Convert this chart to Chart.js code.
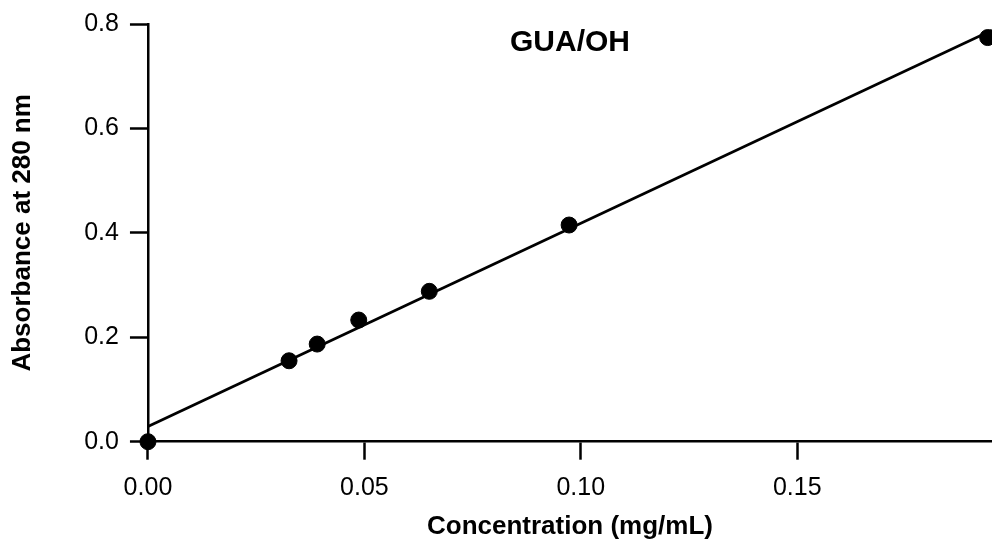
<!DOCTYPE html>
<html>
<head>
<meta charset="utf-8">
<script src="https://cdn.jsdelivr.net/npm/chart.js@4/dist/chart.umd.min.js"></script>
<style>
	html, body { margin: 0; padding: 0; background: #fff; }
	#box { width: 992px; height: 550px; position: relative; }
</style>
</head>
<body>
<div id="box"><canvas id="calibration"></canvas></div>
<script>
var concentration = [0, 0.0326, 0.0391, 0.0487, 0.0650, 0.0973, 0.194];
var absorbance = [0, 0.155, 0.187, 0.233, 0.288, 0.415, 0.774];

// least squares line, drawn end to end across the x range
var fitX = [0, 0.195];
var fitY = [0.029, 0.788];

var xTicks = [0, 0.05, 0.10, 0.15];
var yTicks = [0, 0.2, 0.4, 0.6, 0.8];

var plotTitle = 'GUA/OH';

var font = 'Liberation Sans, Arial, Helvetica, sans-serif';

function pairs(xs, ys) {
	return xs.map(function (x, i) { return { x: x, y: ys[i] }; });
}

function fixedTicks(values) {
	return function (scale) {
		scale.ticks = values.map(function (v) { return { value: v }; });
	};
}

var titleInside = {
	id: 'titleInside',
	afterDraw: function (chart) {
		var ctx = chart.ctx;
		var area = chart.chartArea;
		ctx.save();
		ctx.font = 'bold 30px ' + font;
		ctx.fillStyle = '#000';
		ctx.textAlign = 'center';
		ctx.textBaseline = 'middle';
		ctx.fillText(plotTitle, (area.left + area.right) / 2, 43);
		ctx.restore();
	}
};

var config = {
	type: 'scatter',
	data: {
		datasets: [
			{
				label: 'fit',
				type: 'line',
				data: pairs(fitX, fitY),
				borderColor: '#000',
				borderWidth: 2.8,
				pointRadius: 0,
				fill: false,
				clip: false,
				order: 2
			},
			{
				label: 'GUA/OH',
				data: pairs(concentration, absorbance),
				backgroundColor: '#000',
				borderColor: '#000',
				pointRadius: 8,
				pointHoverRadius: 8,
				clip: false,
				order: 1
			}
		]
	},
	options: {
		responsive: true,
		maintainAspectRatio: false,
		animation: false,
		layout: {
			autoPadding: false,
			padding: { top: 0, right: 0, left: 7.5, bottom: 0 }
		},
		plugins: {
			legend: { display: false },
			tooltip: { enabled: false }
		},
		scales: {
			x: {
				type: 'linear',
				min: 0,
				max: 0.195,
				afterBuildTicks: fixedTicks(xTicks),
				border: { display: true, color: '#000', width: 2.5 },
				grid: {
					drawOnChartArea: false,
					drawTicks: true,
					tickLength: 18,
					tickWidth: 2.5,
					tickColor: '#000'
				},
				ticks: {
					color: '#000',
					padding: 15.8,
					maxRotation: 0,
					font: { family: font, size: 25, lineHeight: 1 },
					callback: function (v) { return v.toFixed(2); }
				},
				title: {
					display: true,
					text: 'Concentration (mg/mL)',
					color: '#000',
					padding: { top: 2.9, bottom: 15.2 },
					font: { family: font, size: 26, weight: 'bold', lineHeight: 0.6 }
				}
			},
			y: {
				type: 'linear',
				min: 0,
				max: 0.8,
				afterBuildTicks: fixedTicks(yTicks),
				border: { display: true, color: '#000', width: 2.5 },
				grid: {
					drawOnChartArea: false,
					drawTicks: true,
					tickLength: 18,
					tickWidth: 2.5,
					tickColor: '#000'
				},
				ticks: {
					color: '#000',
					padding: 11,
					font: { family: font, size: 25, lineHeight: 1.04 },
					callback: function (v) { return v.toFixed(1); }
				},
				title: {
					display: true,
					text: 'Absorbance at 280 nm',
					color: '#000',
					padding: { top: 0, bottom: 34.5 },
					font: { family: font, size: 26, weight: 'bold' }
				}
			}
		}
	},
	plugins: [titleInside]
};

var calibrationChart = new Chart(document.getElementById('calibration'), config);
</script>
</body>
</html>
